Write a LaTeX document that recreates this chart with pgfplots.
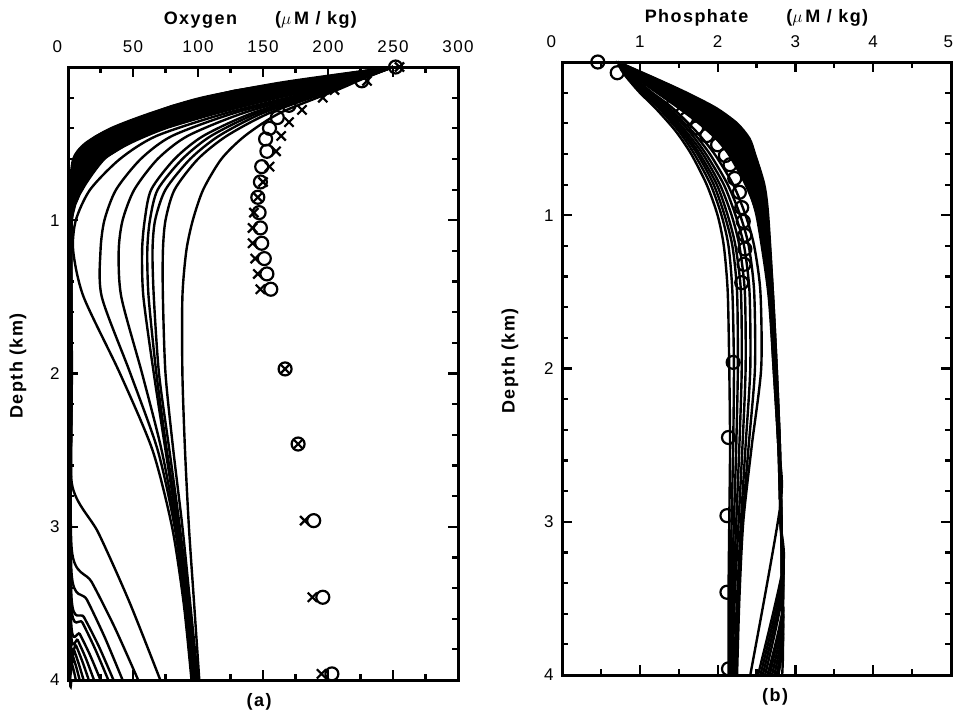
\documentclass[border=0pt]{standalone}
\usepackage{fontspec}
\setmainfont{Liberation Sans}
\newfontfamily\lsfont[LetterSpace=8]{Liberation Sans}
\usepackage{pgfplots}
\pgfplotsset{compat=1.18}
\pgfplotsset{
  panel/.style={
    scale only axis, clip=false,
    y dir=reverse, ymin=0, ymax=4,
    ytick={0,1,2,3,4}, yticklabels={,1,2,3,4},
    minor y tick num=4, minor x tick num=1,
    xticklabel pos=upper,
    tick align=inside, tick pos=both,
    major tick length=10pt, minor tick length=6pt,
    axis line style={line width=3pt},
    every outer x axis line/.append style={line width=3pt},
    every outer y axis line/.append style={line width=3pt},
    tick style={line width=2.2pt, black},
    tick label style={font=\lsfont\fontsize{17}{19}\selectfont},
    xticklabel style={yshift=11pt},
    yticklabel style={xshift=-5pt},
    /pgf/number format/assume math mode=true,
  },
  mod/.style={line width=2.4pt, black, smooth, tension=0.45, no markers},
  obs/.style={only marks, mark=o, mark size=6.5pt, line width=2.2pt, mark options={fill=white}},
  obsx/.style={only marks, mark=x, mark size=6.5pt, line width=2.2pt},
}
\tikzset{lab/.style={font=\lsfont\bfseries\fontsize{18}{21}\selectfont}}
\begin{document}
\begin{tikzpicture}[line width=3pt]
\useasboundingbox (0pt,0pt) rectangle (953pt,-710pt);
% ---------------- (a) Oxygen ----------------
\begin{axis}[panel, at={(68pt,-680pt)}, anchor=south west,
  width=390pt, height=613pt,
  xmin=0, xmax=300, xtick={0,50,...,300},
  xticklabels={\makebox[0pt][r]{0\kern6pt},50,100,150,200,250,300}]
% band fill (curves reaching zero quickly)
\addplot[fill=black, draw=black, line width=1pt] coordinates {
 (250,0)(215,0.05)(165,0.1)(128,0.15)(103,0.2)(80,0.25)(64,0.3)(47,0.35)(33,0.4)(21,0.45)(13,0.5)(4,0.6)(2,0.7)(1.5,0.8)(1.5,1.0)
 (3,1.0)(6,0.9)(11,0.8)(18,0.7)(28,0.6)(47,0.5)(58,0.45)(75,0.4)(95,0.35)(115,0.3)(138,0.25)(162,0.2)(190,0.15)(215,0.1)(235,0.05)(250,0)} --cycle;
% group A
\addplot[mod] coordinates {(250,0)(165,0.1)(103,0.2)(64,0.3)(33,0.4)(13,0.5)(4,0.6)(1.5,0.8)(1.5,1.0)(1.5,2.0)(1.5,3.9)(2.5,4.0)};
\addplot[mod] coordinates {(250,0)(169.5,0.1)(108.3,0.2)(68.6,0.3)(36.8,0.4)(16.1,0.5)(6.2,0.6)(2.4,0.8)(1.6,1.0)(1.6,2.0)(1.6,3.85)(2.9,3.89)(4.5,3.94)(6,4)};
\addplot[mod] coordinates {(250,0)(174,0.1)(113.6,0.2)(73.2,0.3)(40.6,0.4)(19.1,0.5)(8.3,0.6)(3.2,0.8)(1.8,1.0)(1.8,2.0)(1.8,3.8)(4.0,3.85)(6.5,3.92)(9,4)};
\addplot[mod] coordinates {(250,0)(178.5,0.1)(118.9,0.2)(77.8,0.3)(44.3,0.4)(22.2,0.5)(10.5,0.6)(4.1,0.8)(1.9,1.0)(1.9,2.0)(1.9,3.75)(4.9,3.81)(8.5,3.9)(12,4)};
\addplot[mod] coordinates {(250,0)(183,0.1)(124.2,0.2)(82.4,0.3)(48.1,0.4)(25.2,0.5)(12.6,0.6)(4.9,0.8)(2.0,1.0)(2.0,2.0)(2.0,3.7)(6.2,3.775)(11.1,3.88)(16,4)};
\addplot[mod] coordinates {(250,0)(187.5,0.1)(129.6,0.2)(87,0.3)(51.9,0.4)(28.3,0.5)(14.8,0.6)(5.8,0.8)(2.2,1.0)(2.2,2.0)(2.2,3.65)(7.5,3.74)(13.8,3.86)(20,4)};
\addplot[mod] coordinates {(250,0)(192.5,0.1)(135.5,0.2)(92,0.3)(56.1,0.4)(31.7,0.5)(17.2,0.6)(6.7,0.8)(2.3,1.0)(2.3,2.0)(2.3,3.6)(9.1,3.7)(17.1,3.84)(25,4)};
\addplot[mod] coordinates {(250,0)(197,0.1)(140.8,0.2)(96.6,0.3)(59.9,0.4)(34.8,0.5)(19.4,0.6)(7.6,0.8)(2.5,1.0)(2.5,2.0)(2.5,3.5)(11.1,3.625)(21,3.8)(31,4)};
\addplot[mod] coordinates {(250,0)(201.5,0.1)(146.1,0.2)(101.2,0.3)(63.7,0.4)(37.8,0.5)(21.5,0.6)(8.4,0.8)(2.6,1.0)(2.6,2.0)(2.6,3.45)(12.3,3.59)(23.7,3.78)(35,4)};
\addplot[mod] coordinates {(250,0)(206,0.1)(151.4,0.2)(105.8,0.3)(67.4,0.4)(40.9,0.5)(23.7,0.6)(9.3,0.8)(2.7,1.0)(2.7,2.0)(2.7,3.3)(14.5,3.475)(28.2,3.72)(42,4)};
\addplot[mod] coordinates {(250,0)(210.5,0.1)(156.7,0.2)(110.4,0.3)(71.2,0.4)(43.9,0.5)(25.8,0.6)(10.1,0.8)(2.9,1.0)(2.9,2.0)(2.9,3.15)(18.2,3.36)(36.1,3.66)(54,4)};
\addplot[mod] coordinates {(250,0)(215,0.1)(162,0.2)(115,0.3)(75,0.4)(47,0.5)(28,0.6)(11,0.8)(3,1.0)(3,2.0)(3,2.72)(23.4,3.04)(47.2,3.49)(71,4.0)};
% group B
\addplot[mod] coordinates {(250,0)(226,0.08)(207,0.15)(163,0.3)(136,0.45)(118,0.6)(104,0.8)(96,1.0)(91,1.2)(88,1.5)(88,2.0)(90,2.5)(93,3.0)(97,3.5)(101,4.0)};
\addplot[mod] coordinates {(250,0)(225,0.08)(204,0.15)(155,0.3)(122,0.45)(100,0.6)(82,0.8)(75,1.0)(73,1.2)(73,1.5)(75,2.0)(81,2.5)(88,3.0)(94,3.5)(100,4.0)};
\addplot[mod] coordinates {(250,0)(224,0.08)(202,0.15)(150,0.3)(116,0.45)(94,0.6)(75,0.8)(67,1.0)(65,1.2)(66,1.5)(70,2.0)(78,2.5)(86,3.0)(93,3.5)(99,4.0)};
\addplot[mod] coordinates {(250,0)(224,0.08)(201,0.15)(146,0.3)(110,0.45)(88,0.6)(69,0.8)(63,1.0)(61,1.2)(62,1.5)(68,2.0)(76,2.5)(85,3.0)(92,3.5)(98,4.0)};
\addplot[mod] coordinates {(250,0)(223,0.08)(199,0.15)(142,0.3)(104,0.45)(82,0.6)(64,0.8)(59,1.0)(57,1.2)(58,1.5)(66,2.0)(75,2.5)(84,3.0)(91,3.5)(97,4.0)};
\addplot[mod] coordinates {(250,0)(222,0.08)(197,0.15)(135,0.3)(92,0.45)(69,0.6)(51,0.8)(42,1.0)(39,1.2)(41,1.5)(57,2.0)(72,2.5)(83,3.0)(91,3.5)(97,4.0)};
\addplot[mod] coordinates {(250,0)(221,0.08)(195,0.15)(128,0.3)(80,0.45)(56,0.6)(37,0.8)(28,1.0)(25,1.2)(26,1.5)(48,2.0)(69,2.5)(82,3.0)(90,3.5)(96,4.0)};
\addplot[mod] coordinates {(250,0)(220,0.08)(193,0.15)(122,0.3)(68,0.45)(40,0.6)(17,0.8)(6,1.0)(4,1.2)(12,1.5)(40,2.0)(65,2.5)(80,3.0)(89,3.5)(95,4.0)};
% observations
\addplot[obs] coordinates {(252,0)(226,0.09)(170,0.25)(161,0.33)(155,0.40)(152,0.47)(153,0.55)(149,0.65)(148,0.75)(146,0.85)(147,0.95)(148,1.05)(149,1.15)(151,1.25)(153,1.35)(156,1.45)(167,1.97)(177,2.46)(189,2.96)(196,3.46)(203,3.96)};
\addplot[obsx] coordinates {(255,0)(230,0.09)(205,0.15)(196,0.2)(180,0.28)(170,0.36)(164,0.45)(160,0.55)(155,0.65)(150,0.75)(146,0.85)(143,0.95)(142,1.05)(142,1.15)(144,1.25)(146,1.35)(148,1.45)(167,1.97)(177,2.46)(182,2.96)(188,3.46)(195,3.96)};
\node[lab] at ([yshift=47pt]axis cs:148,0) {Oxygen\hspace{38pt}($\mu$\,M / kg)};
\node[lab, rotate=90] at ([xshift=-50pt]axis cs:0,1.95) {Depth (km)};
\node[lab] at ([yshift=-22pt]axis cs:147,4) {(a)};
\end{axis}
% ---------------- (b) Phosphate ----------------
\begin{axis}[panel, at={(562pt,-675pt)}, anchor=south west,
  width=389pt, height=613pt,
  xmin=0, xmax=5, xtick={0,1,...,5},
  xticklabels={\makebox[0pt][r]{0\kern6pt},1,2,3,4,\makebox[0pt][r]{5\kern-2pt}}]
\addplot[obs] coordinates {(0.46,0)(0.71,0.07)(1.43,0.28)(1.6,0.37)(1.73,0.43)(1.86,0.48)(2.0,0.54)(2.1,0.61)(2.16,0.67)(2.22,0.76)(2.28,0.85)(2.31,0.95)(2.33,1.04)(2.35,1.13)(2.35,1.22)(2.34,1.32)(2.31,1.44)(2.2,1.96)(2.14,2.45)(2.12,2.96)(2.12,3.46)(2.14,3.96)};
\addplot[fill=black, draw=black, line width=1pt] coordinates {
 (0.72,0)(0.95,0.05)(1.17,0.1)(1.4,0.15)(1.6,0.2)(1.8,0.25)(1.98,0.3)(2.12,0.35)(2.25,0.4)(2.34,0.45)(2.41,0.5)(2.48,0.6)(2.55,0.7)(2.6,0.8)(2.63,0.9)(2.65,1.0)
 (2.5,1.0)(2.44,0.9)(2.36,0.8)(2.26,0.7)(2.14,0.6)(1.98,0.5)(1.88,0.45)(1.76,0.4)(1.63,0.35)(1.5,0.3)(1.36,0.25)(1.22,0.2)(1.09,0.15)(0.95,0.1)(0.82,0.05)(0.72,0)} --cycle;
% group A
\addplot[mod] coordinates {(0.72,0)(1.17,0.1)(1.60,0.2)(1.98,0.3)(2.25,0.4)(2.41,0.5)(2.48,0.6)(2.60,0.8)(2.65,1.0)(2.71,1.5)(2.76,2.0)(2.80,2.5)(2.82,3.0)(2.83,3.5)(2.84,3.85)(2.83,4.0)};
\addplot[mod] coordinates {(0.72,0)(1.15,0.1)(1.57,0.2)(1.94,0.3)(2.21,0.4)(2.37,0.5)(2.45,0.6)(2.58,0.8)(2.64,1.0)(2.71,1.5)(2.76,2.0)(2.80,2.5)(2.82,3.0)(2.83,3.5)(2.84,3.8)(2.78,4)};
\addplot[mod] coordinates {(0.72,0)(1.13,0.1)(1.53,0.2)(1.89,0.3)(2.16,0.4)(2.33,0.5)(2.42,0.6)(2.56,0.8)(2.62,1.0)(2.70,1.5)(2.75,2.0)(2.80,2.5)(2.82,3.0)(2.83,3.5)(2.84,3.75)(2.76,4)};
\addplot[mod] coordinates {(0.72,0)(1.11,0.1)(1.50,0.2)(1.85,0.3)(2.12,0.4)(2.29,0.5)(2.39,0.6)(2.54,0.8)(2.61,1.0)(2.69,1.5)(2.75,2.0)(2.79,2.5)(2.82,3.0)(2.83,3.5)(2.84,3.7)(2.73,4)};
\addplot[mod] coordinates {(0.72,0)(1.09,0.1)(1.46,0.2)(1.81,0.3)(2.07,0.4)(2.26,0.5)(2.36,0.6)(2.51,0.8)(2.60,1.0)(2.69,1.5)(2.75,2.0)(2.79,2.5)(2.82,3.0)(2.83,3.5)(2.84,3.65)(2.70,4)};
\addplot[mod] coordinates {(0.72,0)(1.07,0.1)(1.43,0.2)(1.76,0.3)(2.03,0.4)(2.22,0.5)(2.33,0.6)(2.49,0.8)(2.58,1.0)(2.68,1.5)(2.74,2.0)(2.79,2.5)(2.82,3.0)(2.83,3.5)(2.84,3.6)(2.67,4)};
\addplot[mod] coordinates {(0.72,0)(1.05,0.1)(1.39,0.2)(1.72,0.3)(1.98,0.4)(2.17,0.5)(2.29,0.6)(2.47,0.8)(2.57,1.0)(2.68,1.5)(2.74,2.0)(2.79,2.5)(2.81,3.0)(2.84,3.55)(2.64,4)};
\addplot[mod] coordinates {(0.72,0)(1.03,0.1)(1.36,0.2)(1.67,0.3)(1.94,0.4)(2.13,0.5)(2.26,0.6)(2.45,0.8)(2.55,1.0)(2.67,1.5)(2.73,2.0)(2.79,2.5)(2.81,3.0)(2.84,3.45)(2.61,4)};
\addplot[mod] coordinates {(0.72,0)(1.01,0.1)(1.32,0.2)(1.63,0.3)(1.89,0.4)(2.10,0.5)(2.23,0.6)(2.42,0.8)(2.54,1.0)(2.67,1.5)(2.73,2.0)(2.79,2.5)(2.81,3.0)(2.84,3.4)(2.58,4)};
\addplot[mod] coordinates {(0.72,0)(0.99,0.1)(1.29,0.2)(1.59,0.3)(1.85,0.4)(2.06,0.5)(2.20,0.6)(2.40,0.8)(2.53,1.0)(2.66,1.5)(2.73,2.0)(2.78,2.5)(2.81,3.0)(2.84,3.35)(2.55,4)};
\addplot[mod] coordinates {(0.72,0)(0.97,0.1)(1.25,0.2)(1.54,0.3)(1.80,0.4)(2.02,0.5)(2.17,0.6)(2.38,0.8)(2.51,1.0)(2.66,1.5)(2.72,2.0)(2.78,2.5)(2.81,3.0)(2.84,3.3)(2.52,4)};
\addplot[mod] coordinates {(0.72,0)(0.95,0.1)(1.22,0.2)(1.50,0.3)(1.76,0.4)(1.98,0.5)(2.14,0.6)(2.36,0.8)(2.50,1.0)(2.65,1.5)(2.72,2.0)(2.78,2.5)(2.81,2.88)(2.42,4)};
% group B
\addplot[mod] coordinates {(0.72,0)(0.76,0.05)(0.83,0.1)(1.00,0.2)(1.20,0.3)(1.46,0.45)(1.66,0.6)(1.86,0.8)(2.00,1.0)(2.08,1.2)(2.13,1.5)(2.15,2.0)(2.16,2.5)(2.15,3.0)(2.14,3.5)(2.14,4.0)};
\addplot[mod] coordinates {(0.72,0)(0.77,0.05)(0.85,0.1)(1.03,0.2)(1.24,0.3)(1.50,0.45)(1.70,0.6)(1.91,0.8)(2.05,1.0)(2.14,1.2)(2.19,1.5)(2.21,2.0)(2.20,2.5)(2.18,3.0)(2.16,3.5)(2.15,4.0)};
\addplot[mod] coordinates {(0.72,0)(0.77,0.05)(0.86,0.1)(1.05,0.2)(1.27,0.3)(1.53,0.45)(1.74,0.6)(1.95,0.8)(2.09,1.0)(2.19,1.2)(2.25,1.5)(2.26,2.0)(2.24,2.5)(2.21,3.0)(2.18,3.5)(2.17,4.0)};
\addplot[mod] coordinates {(0.72,0)(0.78,0.05)(0.87,0.1)(1.07,0.2)(1.29,0.3)(1.56,0.45)(1.77,0.6)(1.99,0.8)(2.13,1.0)(2.23,1.2)(2.30,1.5)(2.31,2.0)(2.28,2.5)(2.24,3.0)(2.20,3.5)(2.18,4.0)};
\addplot[mod] coordinates {(0.72,0)(0.78,0.05)(0.88,0.1)(1.09,0.2)(1.32,0.3)(1.59,0.45)(1.81,0.6)(2.03,0.8)(2.18,1.0)(2.28,1.2)(2.35,1.5)(2.36,2.0)(2.32,2.5)(2.27,3.0)(2.22,3.5)(2.19,4.0)};
\addplot[mod] coordinates {(0.72,0)(0.79,0.05)(0.89,0.1)(1.11,0.2)(1.35,0.3)(1.63,0.45)(1.85,0.6)(2.08,0.8)(2.23,1.0)(2.34,1.2)(2.41,1.5)(2.42,2.0)(2.36,2.5)(2.30,3.0)(2.25,3.5)(2.21,4.0)};
\addplot[mod] coordinates {(0.72,0)(0.79,0.05)(0.90,0.1)(1.13,0.2)(1.38,0.3)(1.67,0.45)(1.90,0.6)(2.13,0.8)(2.29,1.0)(2.40,1.2)(2.47,1.5)(2.48,2.0)(2.40,2.5)(2.32,3.0)(2.27,3.5)(2.23,4.0)};
\addplot[mod] coordinates {(0.72,0)(0.80,0.05)(0.92,0.1)(1.16,0.2)(1.42,0.3)(1.72,0.45)(1.96,0.6)(2.20,0.8)(2.36,1.0)(2.47,1.2)(2.55,1.5)(2.56,2.0)(2.44,2.5)(2.33,3.0)(2.28,3.5)(2.25,4.0)};
\node[lab] at ([yshift=44pt]axis cs:2.5,0) {Phosphate\hspace{38pt}($\mu$\,M / kg)};
\node[lab, rotate=90] at ([xshift=-52pt]axis cs:0,1.95) {Depth (km)};
\node[lab] at ([yshift=-22pt]axis cs:2.74,4) {(b)};
\end{axis}
\end{tikzpicture}
\end{document}
